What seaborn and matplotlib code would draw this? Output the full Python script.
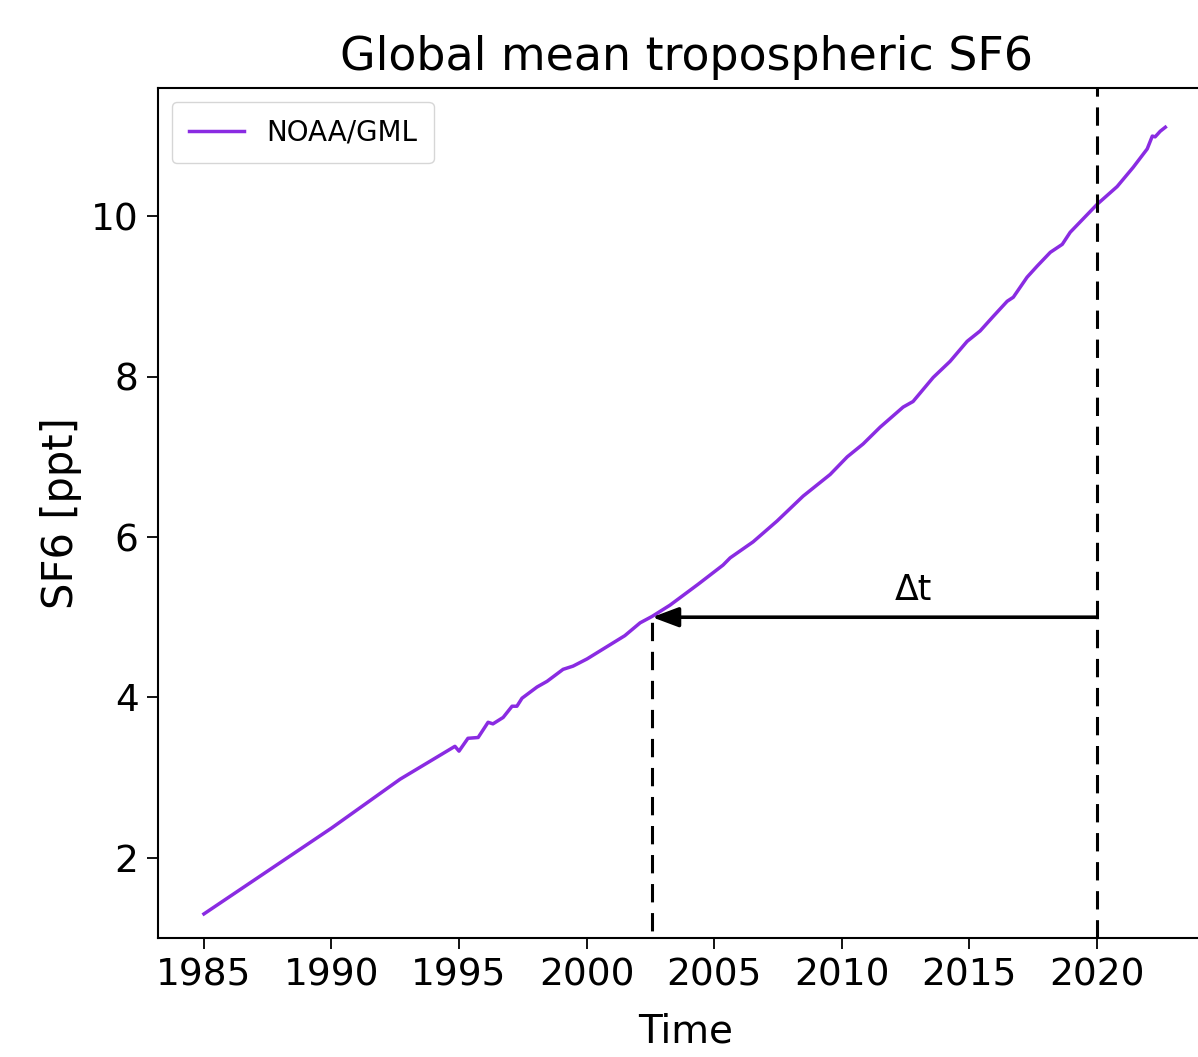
import matplotlib
matplotlib.use("Agg")
import matplotlib.pyplot as plt
import seaborn as sns
import pandas as pd

# ---- data ----
years = [1985.00, 1990.00, 1992.69, 1994.84, 1995.00, 1995.35, 1995.75, 1996.14,
         1996.33, 1996.73, 1997.08, 1997.27, 1997.47, 1998.06, 1998.45, 1999.08,
         1999.47, 2000.02, 2000.53, 2001.50, 2002.10, 2002.57, 2003.27, 2004.37,
         2005.35, 2005.63, 2006.53, 2007.47, 2008.49, 2009.55, 2010.22, 2010.84,
         2011.51, 2012.41, 2012.80, 2013.59, 2014.25, 2014.92, 2015.43, 2015.94,
         2016.49, 2016.73, 2017.27, 2017.67, 2018.18, 2018.65, 2018.96, 2020.02,
         2020.80, 2021.43, 2021.98, 2022.18, 2022.29, 2022.49, 2022.69]
sf6_ppt = [1.30, 2.37, 2.98, 3.39, 3.33, 3.49, 3.50, 3.69,
           3.67, 3.75, 3.89, 3.89, 3.99, 4.13, 4.20, 4.35,
           4.39, 4.48, 4.58, 4.77, 4.93, 5.01, 5.15, 5.41,
           5.65, 5.74, 5.94, 6.20, 6.51, 6.78, 7.00, 7.16,
           7.37, 7.62, 7.69, 7.99, 8.19, 8.44, 8.57, 8.75,
           8.94, 8.99, 9.24, 9.38, 9.55, 9.65, 9.80, 10.15,
           10.37, 10.61, 10.84, 11.00, 10.99, 11.06, 11.11]

x_ticks = [1985, 1990, 1995, 2000, 2005, 2010, 2015, 2020]
y_ticks = [2, 4, 6, 8, 10]

t_lag = 2002.57      # time at which SF6 equals the reference level
t_ref = 2020.0       # reference time
level = 5.0          # SF6 level [ppt]
label_pos = (2012.8, 5.22)

df = pd.DataFrame({"time": years, "sf6": sf6_ppt})

# ---- figure ----
fig = plt.figure(figsize=(11.98, 10.57), dpi=100)
ax = fig.add_axes([0.1319, 0.1126, 0.8815, 0.8042])

sns.lineplot(data=df, x="time", y="sf6", color="#8a2be2", linewidth=2.5,
             label="NOAA/GML", ax=ax)

dash = (0, (6, 3.5))
ax.axvline(t_ref, color="black", linestyle=dash, linewidth=2.2)
ax.vlines(t_lag, 0, level, color="black", linestyle=dash, linewidth=2.2)
ax.annotate("", xy=(t_lag, level), xytext=(t_ref, level),
            arrowprops=dict(arrowstyle="-|>,head_length=0.8,head_width=0.3",
                            color="black", lw=2.6, mutation_scale=20,
                            shrinkA=0, shrinkB=0))
ax.text(label_pos[0], label_pos[1], "Δt", ha="center", va="baseline",
        fontsize=25)

ax.set_xlim(1983.2, 2024.6)
ax.set_ylim(1.0, 11.6)
ax.set_xticks(x_ticks)
ax.set_yticks(y_ticks)
ax.tick_params(labelsize=27, length=8, width=1.3, pad=6)
for s in ax.spines.values():
    s.set_linewidth(1.5)

ax.set_title("Global mean tropospheric SF6", fontsize=33, pad=13)
ax.set_xlabel("Time", fontsize=28, labelpad=14)
ax.set_ylabel("SF6 [ppt]", fontsize=30, labelpad=6)
ax.legend(loc="upper left", fontsize=20, handlelength=2.0, borderpad=0.6)

fig.savefig("out.png", dpi=100)
